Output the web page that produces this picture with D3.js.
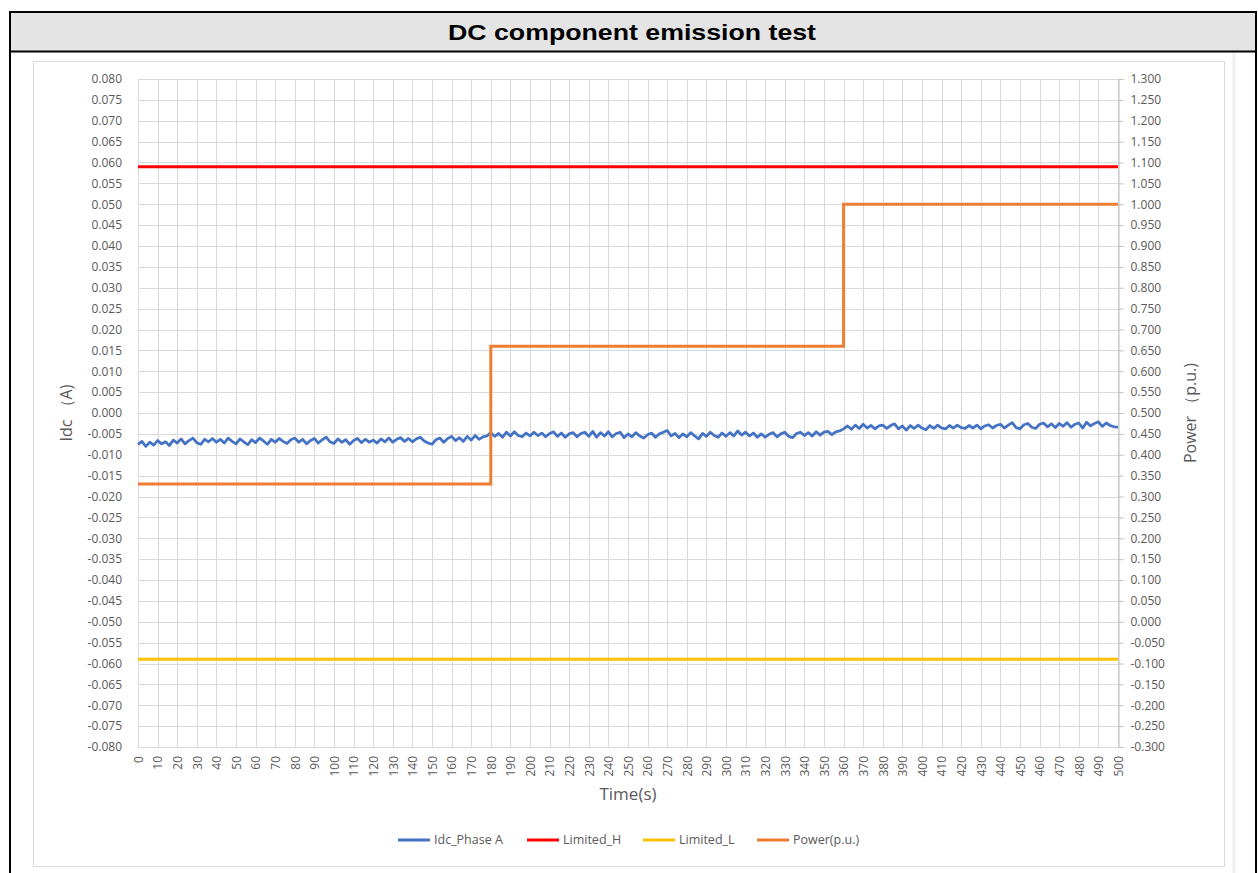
<!DOCTYPE html>
<meta charset="utf-8">
<head>
<script src="https://d3js.org/d3.v7.min.js"></script>
<style>
  body { margin: 0; background: #fff; }
  text { font-family: "Open Sans", sans-serif; }
</style>
</head>
<body>
<svg id="chart" width="1258" height="873"></svg>

<script>
// ---- data ----
var chartTitle = "DC component emission test";
var seriesNames = ["Idc_Phase A", "Limited_H", "Limited_L", "Power(p.u.)"];
var seriesColors = ["#4472c4", "#ff0000", "#ffc000", "#ed7d31"];

// Idc sampled every 2 s, from 0 to 500 s
var idcStep = 2;
var idcValues = [
  -0.0075,-0.0068,-0.0080,-0.0070,-0.0077,-0.0066,-0.0074,-0.0069,-0.0078,-0.0065,
  -0.0072,-0.0062,-0.0074,-0.0066,-0.0060,-0.0071,-0.0075,-0.0063,-0.0069,-0.0061,
  -0.0070,-0.0063,-0.0072,-0.0060,-0.0068,-0.0074,-0.0062,-0.0069,-0.0076,-0.0064,
  -0.0071,-0.0060,-0.0067,-0.0075,-0.0063,-0.0070,-0.0061,-0.0068,-0.0073,-0.0064,
  -0.0060,-0.0070,-0.0063,-0.0074,-0.0066,-0.0061,-0.0072,-0.0064,-0.0058,-0.0069,
  -0.0073,-0.0062,-0.0070,-0.0064,-0.0075,-0.0066,-0.0061,-0.0071,-0.0063,-0.0070,
  -0.0065,-0.0072,-0.0062,-0.0069,-0.0060,-0.0070,-0.0063,-0.0059,-0.0068,-0.0061,
  -0.0069,-0.0062,-0.0058,-0.0067,-0.0072,-0.0075,-0.0064,-0.0060,-0.0070,-0.0061,
  -0.0056,-0.0066,-0.0059,-0.0068,-0.0056,-0.0065,-0.0054,-0.0063,-0.0057,-0.0055,
  -0.0047,-0.0056,-0.0049,-0.0058,-0.0046,-0.0055,-0.0045,-0.0054,-0.0057,-0.0048,
  -0.0055,-0.0046,-0.0054,-0.0048,-0.0057,-0.0049,-0.0045,-0.0056,-0.0048,-0.0058,
  -0.0050,-0.0047,-0.0057,-0.0049,-0.0046,-0.0056,-0.0044,-0.0058,-0.0047,-0.0055,
  -0.0045,-0.0057,-0.0049,-0.0046,-0.0059,-0.0050,-0.0057,-0.0047,-0.0055,-0.0060,
  -0.0052,-0.0048,-0.0058,-0.0050,-0.0046,-0.0042,-0.0055,-0.0049,-0.0059,-0.0050,
  -0.0057,-0.0047,-0.0055,-0.0062,-0.0049,-0.0056,-0.0046,-0.0054,-0.0058,-0.0048,
  -0.0056,-0.0047,-0.0055,-0.0043,-0.0053,-0.0046,-0.0055,-0.0048,-0.0058,-0.0050,
  -0.0058,-0.0051,-0.0047,-0.0057,-0.0050,-0.0046,-0.0056,-0.0059,-0.0049,-0.0046,
  -0.0054,-0.0047,-0.0055,-0.0045,-0.0053,-0.0046,-0.0044,-0.0052,-0.0045,-0.0043,
  -0.0038,-0.0031,-0.0039,-0.0029,-0.0037,-0.0027,-0.0036,-0.0030,-0.0038,-0.0031,
  -0.0029,-0.0037,-0.0030,-0.0026,-0.0038,-0.0031,-0.0041,-0.0030,-0.0037,-0.0029,
  -0.0036,-0.0040,-0.0030,-0.0037,-0.0029,-0.0036,-0.0038,-0.0030,-0.0036,-0.0029,
  -0.0035,-0.0037,-0.0030,-0.0036,-0.0029,-0.0038,-0.0031,-0.0028,-0.0036,-0.0030,
  -0.0027,-0.0036,-0.0029,-0.0023,-0.0035,-0.0038,-0.0028,-0.0025,-0.0034,-0.0037,
  -0.0027,-0.0024,-0.0033,-0.0026,-0.0035,-0.0025,-0.0032,-0.0023,-0.0034,-0.0027,
  -0.0024,-0.0036,-0.0022,-0.0031,-0.0025,-0.0021,-0.0032,-0.0024,-0.0030,-0.0033,
  -0.0034
];

var limitTimes = [0, 500];
var limitHigh = [0.059, 0.059];
var limitLow = [-0.059, -0.059];

var powerTimes = [0, 180, 180, 360, 360, 500];
var powerValues = [0.33, 0.33, 0.66, 0.66, 1.0, 1.0];

var xTicks = d3.range(0, 501, 10);
var leftTicks = d3.range(-80, 81, 5).map(function (k) { return k / 1000; });
var rightTicks = d3.range(-300, 1301, 50).map(function (k) { return k / 1000; });

// ---- layout ----
var svg = d3.select("#chart");
var plot = { left: 138, right: 1118, top: 79, bottom: 747 };

var x = d3.scaleLinear().domain([0, 500]).range([plot.left, plot.right]);
var yL = d3.scaleLinear().domain([-0.08, 0.08]).range([plot.bottom, plot.top]);
var yR = d3.scaleLinear().domain([-0.3, 1.3]).range([plot.bottom, plot.top]);

// frame round the chart (like a spreadsheet cell)
svg.append("rect")
  .attr("x", 33.5).attr("y", 61.5).attr("width", 1191).attr("height", 805)
  .attr("fill", "#fff").attr("stroke", "#d9d9d9").attr("stroke-width", 1);
svg.append("line")
  .attr("x1", 1234).attr("x2", 1234).attr("y1", 53).attr("y2", 873)
  .attr("stroke", "#f0f0f0").attr("stroke-width", 3);

// title band
svg.append("rect")
  .attr("x", 10).attr("y", 12).attr("width", 1246).attr("height", 39)
  .attr("fill", "#e4e4e4");
svg.append("rect")
  .attr("x", 10).attr("y", 12).attr("width", 1246).attr("height", 900)
  .attr("fill", "none").attr("stroke", "#000").attr("stroke-width", 2);
svg.append("line")
  .attr("x1", 10).attr("x2", 1256).attr("y1", 51.5).attr("y2", 51.5)
  .attr("stroke", "#000").attr("stroke-width", 2);
svg.append("text")
  .attr("x", 632).attr("y", 40)
  .attr("text-anchor", "middle")
  .attr("textLength", 368).attr("lengthAdjust", "spacingAndGlyphs")
  .style("font-family", "'Liberation Sans', Arial, sans-serif")
  .style("font-weight", "bold").style("font-size", "22px")
  .text(chartTitle);

// grid
var grid = svg.append("g").attr("stroke", "#d9d9d9").attr("stroke-width", 1);
grid.selectAll(".h").data(leftTicks).enter().append("line")
  .attr("x1", plot.left).attr("x2", plot.right)
  .attr("y1", function (d) { return Math.round(yL(d)) + 0.5; })
  .attr("y2", function (d) { return Math.round(yL(d)) + 0.5; });
grid.selectAll(".v").data(xTicks).enter().append("line")
  .attr("y1", plot.top).attr("y2", plot.bottom + 0.5)
  .attr("x1", function (d) { return Math.round(x(d)) + 0.5; })
  .attr("x2", function (d) { return Math.round(x(d)) + 0.5; });

// axes
var fmt = function (d) { return d.toFixed(3); };

var axL = svg.append("g")
  .attr("transform", "translate(" + (plot.left - 16) + ",0)")
  .call(d3.axisLeft(yL).tickValues(leftTicks).tickFormat(fmt).tickSize(0).tickPadding(0));
axL.select(".domain").remove();

var axR = svg.append("g")
  .attr("transform", "translate(" + (plot.right + 0.5) + ",0)")
  .call(d3.axisRight(yR).tickValues(rightTicks).tickFormat(fmt).tickSize(5).tickPadding(7));
axR.select(".domain").attr("stroke", "#bfbfbf");
axR.selectAll(".tick line").attr("stroke", "#bfbfbf");

var axB = svg.append("g")
  .attr("transform", "translate(0," + plot.bottom + ")")
  .call(d3.axisBottom(x).tickValues(xTicks).tickFormat(d3.format("d")).tickSize(0));
axB.select(".domain").remove();
axB.selectAll(".tick text")
  .attr("transform", "rotate(-90)")
  .attr("x", -9).attr("y", 0).attr("dy", "0.35em")
  .attr("text-anchor", "end");

svg.selectAll(".tick text")
  .attr("fill", "#595959")
  .style("font-family", "'Open Sans', sans-serif")
  .style("font-size", "12px");

// axis titles
svg.append("text")
  .attr("transform", "translate(72,413) rotate(-90)")
  .attr("text-anchor", "middle").attr("fill", "#595959")
  .style("font-size", "16px")
  .text("Idc （A)");
svg.append("text")
  .attr("transform", "translate(1196,413) rotate(-90)")
  .attr("text-anchor", "middle").attr("fill", "#595959")
  .style("font-size", "16px")
  .text("Power （p.u.)");
svg.append("text")
  .attr("x", 628).attr("y", 800)
  .attr("text-anchor", "middle").attr("fill", "#595959")
  .style("font-size", "17px")
  .text("Time(s)");

// series
var lineL = d3.line().x(function (d) { return x(d[0]); }).y(function (d) { return yL(d[1]); });
var lineR = d3.line().x(function (d) { return x(d[0]); }).y(function (d) { return yR(d[1]); });

var idcData = idcValues.map(function (v, i) { return [i * idcStep, v]; });
var highData = limitTimes.map(function (t, i) { return [t, limitHigh[i]]; });
var lowData = limitTimes.map(function (t, i) { return [t, limitLow[i]]; });
var powerData = powerTimes.map(function (t, i) { return [t, powerValues[i]]; });

svg.append("path").datum(idcData)
  .attr("d", lineL).attr("fill", "none")
  .attr("stroke", seriesColors[0]).attr("stroke-width", 2.75).attr("stroke-linejoin", "round");
svg.append("path").datum(highData)
  .attr("d", lineL).attr("fill", "none")
  .attr("stroke", seriesColors[1]).attr("stroke-width", 3);
svg.append("path").datum(lowData)
  .attr("d", lineL).attr("fill", "none")
  .attr("stroke", seriesColors[2]).attr("stroke-width", 3);
svg.append("path").datum(powerData)
  .attr("d", lineR).attr("fill", "none")
  .attr("stroke", seriesColors[3]).attr("stroke-width", 3);

// legend
var legendX = [398, 527, 643, 757];
var legend = svg.append("g").attr("transform", "translate(0,840)");
var item = legend.selectAll("g").data(seriesNames).enter().append("g")
  .attr("transform", function (d, i) { return "translate(" + legendX[i] + ",0)"; });
item.append("line")
  .attr("x1", 0).attr("x2", 32).attr("y1", 0).attr("y2", 0)
  .attr("stroke-width", 3)
  .attr("stroke", function (d, i) { return seriesColors[i]; });
item.append("text")
  .attr("x", 36).attr("dy", "0.35em")
  .attr("fill", "#595959").style("font-size", "12.5px")
  .text(function (d) { return d; });
</script>
</body>
</html>
